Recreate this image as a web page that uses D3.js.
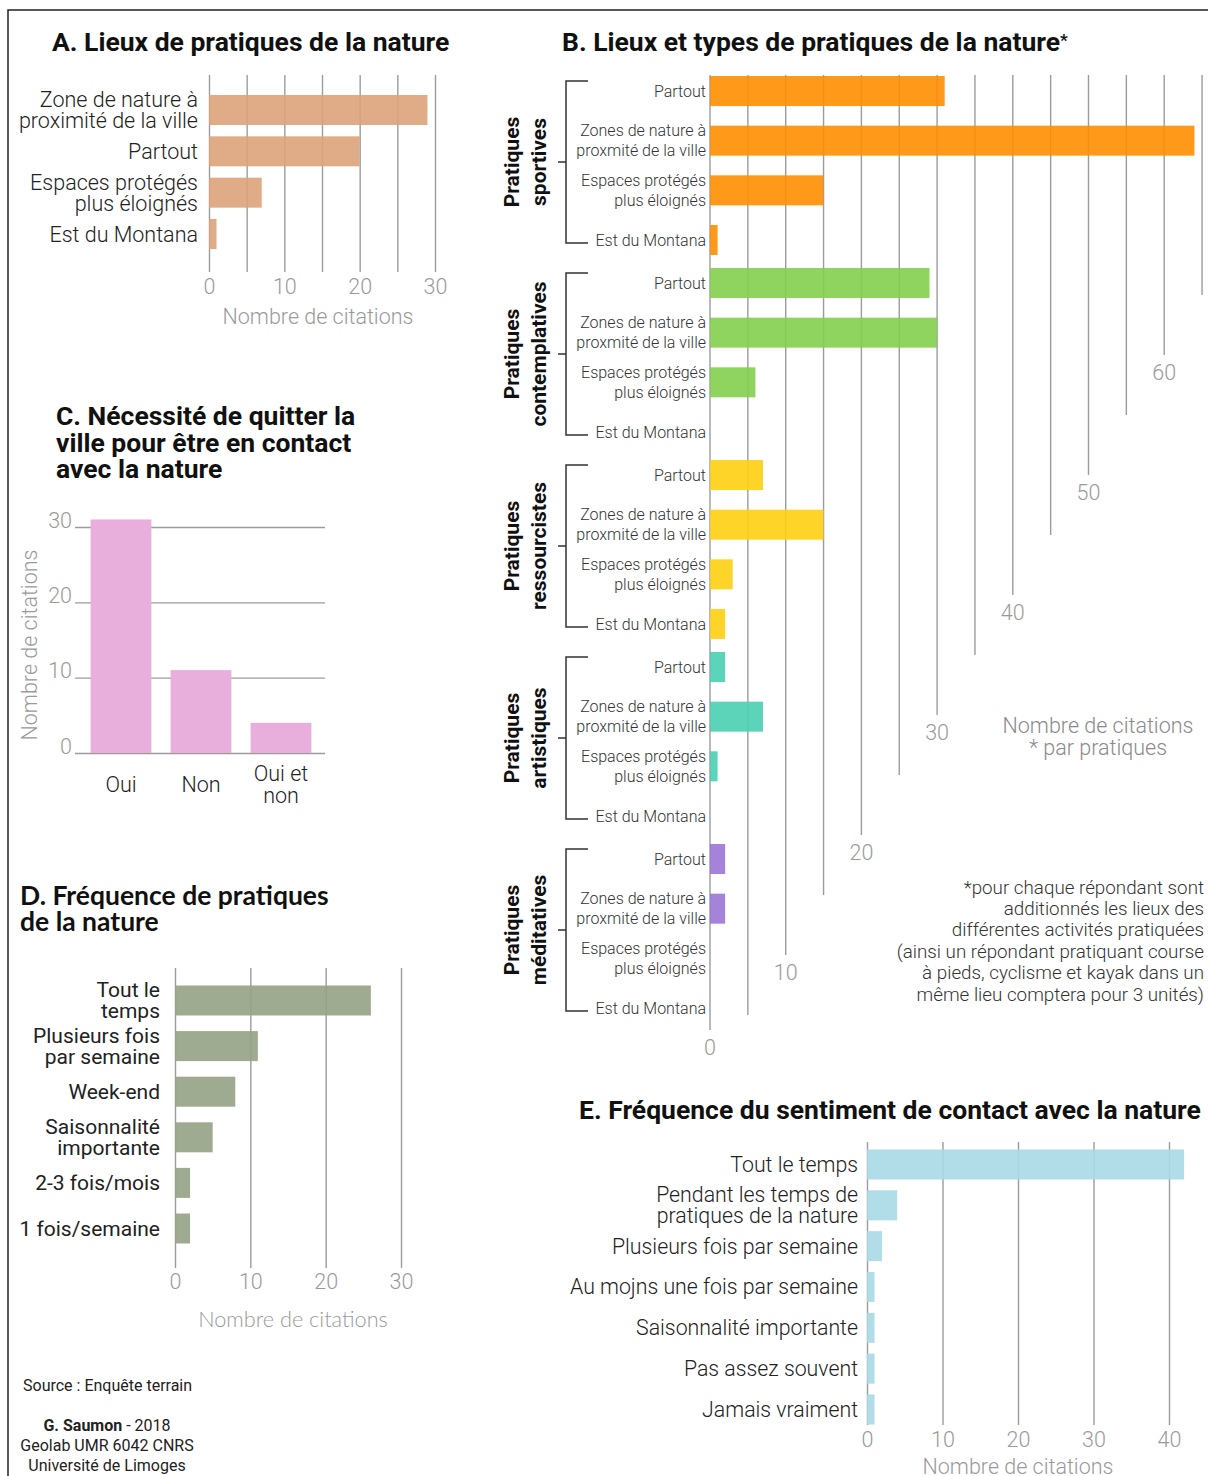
<!DOCTYPE html>
<html>
<head>
<meta charset="utf-8">
<script src="https://cdn.jsdelivr.net/npm/d3@7"></script>
<style>
  body { margin: 0; background: #fff; }
  text { font-family: Roboto, sans-serif; }
</style>
</head>
<body>
<div id="chart"></div>
<script>
// Chart size.
const width = 1208;
const height = 1476;

// A. Lieux de pratiques de la nature
const lieuxA = ["Zone de nature à\nproximité de la ville", "Partout", "Espaces protégés\nplus éloignés", "Est du Montana"];
const citationsA = [29, 20, 7, 1];
const ticksA = [0, 10, 20, 30];

// B. Lieux et types de pratiques
const groupesB = ["Pratiques\nsportives", "Pratiques\ncontemplatives", "Pratiques\nressourcistes", "Pratiques\nartistiques", "Pratiques\nméditatives"];
const lieuxB = ["Partout", "Zones de nature à\nproxmité de la ville", "Espaces protégés\nplus éloignés", "Est du Montana"];
const sportives = [31, 64, 15, 1];
const contemplatives = [29, 30, 6, 0];
const ressourcistes = [7, 15, 3, 2];
const artistiques = [2, 7, 1, 0];
const meditatives = [2, 2, 0, 0];
const ticksB = [0, 10, 20, 30, 40, 50, 60];

// C. Nécessité de quitter la ville
const reponsesC = ["Oui", "Non", "Oui et\nnon"];
const citationsC = [31, 11, 4];
const ticksC = [0, 10, 20, 30];

// D. Fréquence de pratiques
const frequencesD = ["Tout le\ntemps", "Plusieurs fois\npar semaine", "Week-end", "Saisonnalité\nimportante", "2-3 fois/mois", "1 fois/semaine"];
const citationsD = [26, 11, 8, 5, 2, 2];
const ticksD = [0, 10, 20, 30];

// E. Fréquence du sentiment de contact
const sentimentsE = ["Tout le temps", "Pendant les temps de\npratiques de la nature", "Plusieurs fois par semaine", "Au mojns une fois par semaine", "Saisonnalité importante", "Pas assez souvent", "Jamais vraiment"];
const citationsE = [42, 4, 2, 1, 1, 1, 1];
const ticksE = [0, 10, 20, 30, 40];

const gridColor = "#9c9c9c";
const tickColor = "#9a9a9a";
const labelSize = 21.5;

const svg = d3.select("#chart")
  .append("svg")
  .attr("width", width)
  .attr("height", height);

// Frame on top and left.
svg.append("path")
  .attr("d", "M8,1476V10H1208")
  .attr("fill", "none")
  .attr("stroke", "#222")
  .attr("stroke-width", 1.5);

// Write a text on several lines, centred on y.
function multiline(g, str, x, y, lh, anchor) {
  const lines = str.split("\n");
  const t = g.append("text").attr("text-anchor", anchor || "end");
  lines.forEach(function(l, i) {
    t.append("tspan")
      .attr("x", x)
      .attr("y", y + (i - (lines.length - 1) / 2) * lh)
      .attr("dy", "0.35em")
      .text(l);
  });
  return t;
}

function title(lines, x, y, lh, family) {
  const t = svg.append("text")
    .attr("font-size", 26.5)
    .attr("font-weight", 700)
    .attr("fill", "#111")
    .style("font-family", family || "Roboto");
  lines.forEach(function(l, i) {
    t.append("tspan").attr("x", x).attr("y", y + i * lh).text(l);
  });
  return t;
}

function styleGrid(g) {
  g.select(".domain").remove();
  g.selectAll(".tick line").attr("stroke", gridColor).attr("stroke-width", 1.4);
  g.selectAll(".tick text")
    .attr("fill", tickColor)
    .attr("font-size", labelSize)
    .attr("font-weight", 300)
    .attr("font-family", null);
}

// ---------- A ----------
title(["A. Lieux de pratiques de la nature"], 52, 51, 0);

const xA = d3.scaleLinear().domain([0, 30]).range([209, 435]);
const yA = d3.scalePoint().domain(lieuxA).range([110, 234]);

const gA = svg.append("g").attr("transform", "translate(0,272)")
  .call(d3.axisBottom(xA)
    .tickValues(d3.range(0, 31, 5))
    .tickSize(-(272 - 75))
    .tickPadding(7)
    .tickFormat(function(d) { return d % 10 === 0 ? d : ""; }));
styleGrid(gA);

svg.append("g").selectAll("rect")
  .data(citationsA)
  .enter()
  .append("rect")
  .attr("x", xA(0))
  .attr("y", function(d, i) { return yA(lieuxA[i]) - 15; })
  .attr("width", function(d) { return xA(d) - xA(0); })
  .attr("height", 30)
  .attr("fill", "#dda27a")
  .attr("fill-opacity", 0.9);

const labA = svg.append("g").attr("font-size", labelSize).attr("font-weight", 300).attr("fill", "#222");
lieuxA.forEach(function(l) { multiline(labA, l, 198, yA(l), 21); });

svg.append("text")
  .attr("x", 318).attr("y", 316).attr("dy", "0.35em")
  .attr("text-anchor", "middle")
  .attr("font-size", labelSize).attr("font-weight", 300).attr("fill", tickColor)
  .text("Nombre de citations");

// ---------- B ----------
const tB = title(["B. Lieux et types de pratiques de la nature"], 562, 51, 0);
tB.append("tspan").attr("font-size", 17).attr("dy", -5).text("*");

const xB = d3.scaleLinear().domain([0, 65]).range([710, 710 + 65 * 7.57]);
const yGroupB = d3.scaleBand().domain(groupesB).range([70, 70 + 5 * 192]);
const yRowB = d3.scalePoint().domain(lieuxB).range([21, 170]);
const valuesB = [sportives, contemplatives, ressourcistes, artistiques, meditatives];
const colorsB = ["#ff8e00", "#83cf4d", "#ffcf12", "#4acfb1", "#9c75d7"];

// Staircase of grid lines, each one ending a little higher.
function gridEndB(v) { return v === 0 ? 1030 : 1075 - 12 * v; }

svg.append("g").selectAll("line")
  .data(d3.range(0, 66, 5))
  .enter()
  .append("line")
  .attr("x1", function(d) { return xB(d); })
  .attr("x2", function(d) { return xB(d); })
  .attr("y1", 75)
  .attr("y2", function(d) { return gridEndB(d); })
  .attr("stroke", gridColor)
  .attr("stroke-width", 1.4);

svg.append("g").selectAll("text")
  .data(ticksB)
  .enter()
  .append("text")
  .attr("x", function(d) { return xB(d); })
  .attr("y", function(d) { return gridEndB(d) + 17; })
  .attr("dy", "0.35em")
  .attr("text-anchor", "middle")
  .attr("font-size", labelSize).attr("font-weight", 300).attr("fill", tickColor)
  .text(function(d) { return d; });

groupesB.forEach(function(grp, gi) {
  const g = svg.append("g").attr("transform", "translate(0," + yGroupB(grp) + ")");

  g.selectAll("rect")
    .data(valuesB[gi])
    .enter()
    .append("rect")
    .attr("x", xB(0))
    .attr("y", function(d, i) { return yRowB(lieuxB[i]) - 15; })
    .attr("width", function(d) { return xB(d) - xB(0); })
    .attr("height", 30)
    .attr("fill", colorsB[gi])
    .attr("fill-opacity", 0.9);

  const lab = g.append("g").attr("font-size", 16).attr("font-weight", 300).attr("fill", "#333");
  lieuxB.forEach(function(l) { multiline(lab, l, 706, yRowB(l), 20); });

  // Bracket.
  const top = yRowB(lieuxB[0]) - 10;
  const bot = yRowB(lieuxB[3]) + 3;
  const mid = (top + bot) / 2;
  g.append("path")
    .attr("d", "M588," + top + "H566V" + bot + "H588M566," + mid + "H558")
    .attr("fill", "none")
    .attr("stroke", "#333")
    .attr("stroke-width", 1.5);

  const parts = grp.split("\n");
  g.append("text")
    .attr("transform", "translate(519," + mid + ") rotate(-90)")
    .attr("text-anchor", "middle")
    .attr("font-size", 21).attr("font-weight", 700).attr("fill", "#111")
    .text(parts[0]);
  g.append("text")
    .attr("transform", "translate(546," + mid + ") rotate(-90)")
    .attr("text-anchor", "middle")
    .attr("font-size", 21).attr("font-weight", 700).attr("fill", "#111")
    .text(parts[1]);
});

const legB = svg.append("g").attr("font-size", labelSize).attr("font-weight", 300).attr("fill", "#8a8a8a");
multiline(legB, "Nombre de citations\n* par pratiques", 1098, 736, 22, "middle");

const noteB = svg.append("g").attr("font-size", 18.8).attr("font-weight", 300).attr("fill", "#333");
multiline(noteB, "*pour chaque répondant sont\nadditionnés les lieux des\ndifférentes activités pratiquées\n(ainsi un répondant pratiquant course\nà pieds, cyclisme et kayak dans un\nmême lieu comptera pour 3 unités)", 1204, 940.5, 21.4, "end");

// ---------- C ----------
title(["C. Nécessité de quitter la", "ville pour être en contact", "avec la nature"], 56, 425, 26.5);

const yC = d3.scaleLinear().domain([0, 30]).range([753, 527]);
const xC = d3.scaleBand().domain(reponsesC).range([81, 321]).paddingInner(0.24).paddingOuter(0.12);

const gC = svg.append("g").attr("transform", "translate(75,0)")
  .call(d3.axisLeft(yC).tickValues(ticksC).tickSize(-(325 - 75)).tickPadding(3));
styleGrid(gC);
gC.selectAll(".tick text").attr("dy", "0");

svg.append("g").selectAll("rect")
  .data(citationsC)
  .enter()
  .append("rect")
  .attr("x", function(d, i) { return xC(reponsesC[i]); })
  .attr("y", function(d) { return yC(d); })
  .attr("width", xC.bandwidth())
  .attr("height", function(d) { return yC(0) - yC(d); })
  .attr("fill", "#e8afdc");

const labC = svg.append("g").attr("font-size", labelSize).attr("font-weight", 300).attr("fill", "#222");
reponsesC.forEach(function(r) { multiline(labC, r, xC(r) + xC.bandwidth() / 2, 784, 22, "middle"); });

svg.append("text")
  .attr("transform", "translate(37,645) rotate(-90)")
  .attr("text-anchor", "middle")
  .attr("font-size", labelSize).attr("font-weight", 300).attr("fill", tickColor)
  .text("Nombre de citations");

// ---------- D ----------
title(["D. Fréquence de pratiques", "de la nature"], 20, 905, 26, "Lato");

const xD = d3.scaleLinear().domain([0, 30]).range([175, 401]);
const yD = d3.scalePoint().domain(frequencesD).range([1000.5, 1228.5]);

const gD = svg.append("g").attr("transform", "translate(0,1268)")
  .call(d3.axisBottom(xD).tickValues(ticksD).tickSize(-(1268 - 968)).tickPadding(6));
styleGrid(gD);
gD.selectAll(".tick text").attr("font-family", "Lato").attr("font-weight", 300);

svg.append("g").selectAll("rect")
  .data(citationsD)
  .enter()
  .append("rect")
  .attr("x", xD(0))
  .attr("y", function(d, i) { return yD(frequencesD[i]) - 15; })
  .attr("width", function(d) { return xD(d) - xD(0); })
  .attr("height", 30)
  .attr("fill", "#93a284")
  .attr("fill-opacity", 0.9);

const labD = svg.append("g").attr("font-size", 21).attr("font-weight", 400).attr("fill", "#222").style("font-family", "Lato");
frequencesD.forEach(function(f) { multiline(labD, f, 160, yD(f), 21); });

svg.append("text")
  .attr("x", 293).attr("y", 1319).attr("dy", "0.35em")
  .attr("text-anchor", "middle")
  .attr("font-size", 21.7).attr("font-weight", 300).attr("fill", tickColor)
  .style("font-family", "Lato")
  .text("Nombre de citations");

// Source and author.
const foot = svg.append("g").attr("font-size", 16).attr("fill", "#222").style("font-family", "Lato");
foot.append("text").attr("x", 23).attr("y", 1391).text("Source : Enquête terrain");
const sig = foot.append("text").attr("x", 107).attr("y", 1431).attr("text-anchor", "middle");
sig.append("tspan").attr("font-weight", 700).text("G. Saumon");
sig.append("tspan").text(" - 2018");
foot.append("text").attr("x", 107).attr("y", 1451).attr("text-anchor", "middle").text("Geolab UMR 6042 CNRS");
foot.append("text").attr("x", 107).attr("y", 1471).attr("text-anchor", "middle").text("Université de Limoges");

// ---------- E ----------
title(["E. Fréquence du sentiment de contact avec la nature"], 579, 1119, 0);

const xE = d3.scaleLinear().domain([0, 40]).range([867, 1169]);
const yE = d3.scalePoint().domain(sentimentsE).range([1164.5, 1409.5]);

const gE = svg.append("g").attr("transform", "translate(0,1425)")
  .call(d3.axisBottom(xE).tickValues(ticksE).tickSize(-(1425 - 1142)).tickPadding(7));
styleGrid(gE);

svg.append("g").selectAll("rect")
  .data(citationsE)
  .enter()
  .append("rect")
  .attr("x", xE(0))
  .attr("y", function(d, i) { return yE(sentimentsE[i]) - 15; })
  .attr("width", function(d) { return xE(d) - xE(0); })
  .attr("height", 30)
  .attr("fill", "#a7d9e5")
  .attr("fill-opacity", 0.9);

const labE = svg.append("g").attr("font-size", 21.3).attr("font-weight", 300).attr("fill", "#222");
sentimentsE.forEach(function(s) { multiline(labE, s, 858, yE(s), 21); });

svg.append("text")
  .attr("x", 1018).attr("y", 1466).attr("dy", "0.35em")
  .attr("text-anchor", "middle")
  .attr("font-size", labelSize).attr("font-weight", 300).attr("fill", tickColor)
  .text("Nombre de citations");
</script>
</body>
</html>
